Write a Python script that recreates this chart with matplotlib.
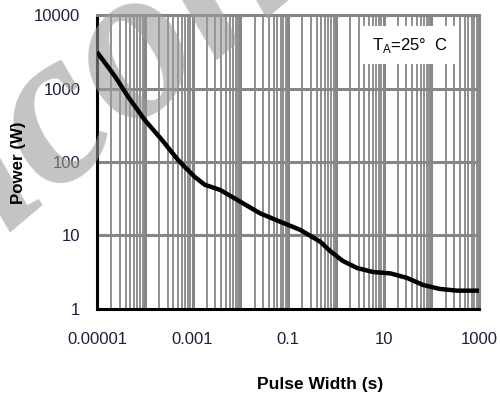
import matplotlib
matplotlib.use("Agg")
import matplotlib.pyplot as plt
from matplotlib.ticker import LogLocator, FixedLocator, FixedFormatter, NullFormatter

plt.rcParams['font.family'] = ['Liberation Sans', 'DejaVu Sans']
plt.rcParams['mathtext.fontset'] = 'custom'
plt.rcParams['mathtext.rm'] = 'Liberation Sans'

# single pulse power vs pulse width
pulse_width = [1e-5, 2.4e-5, 4.5e-5, 1e-4, 2.3e-4, 5e-4, 1.1e-3, 1.8e-3, 3.8e-3,
               1e-2, 2.6e-2, 6.8e-2, 0.18, 0.47, 0.76, 1.4, 2.8, 6, 14, 31, 67,
               150, 350, 1000]
power = [3140, 1450, 770, 373, 199, 106, 63, 49, 41.6,
         28.8, 20, 15.4, 11.9, 8.24, 6.15, 4.5, 3.6, 3.18, 3.04, 2.64, 2.12,
         1.87, 1.77, 1.77]

x_ticks = [1e-5, 1e-4, 1e-3, 1e-2, 1e-1, 1, 10, 100, 1000]
x_tick_labels = ['0.00001', '', '0.001', '', '0.1', '', '10', '', '1000']
y_ticks = [1, 10, 100, 1000, 10000]
y_tick_labels = ['1', '10', '100', '1000', '10000']

txt = '#1c2238'
grid_col = '#878787'

fig = plt.figure(figsize=(5, 3.96), dpi=100)
ax = fig.add_axes([0.194, 0.22, 0.764, 0.742])

ax.set_xscale('log')
ax.set_yscale('log')
ax.set_xlim(1e-5, 1000)
ax.set_ylim(1, 10000)

ax.xaxis.set_major_locator(FixedLocator(x_ticks))
ax.xaxis.set_major_formatter(FixedFormatter(x_tick_labels))
ax.xaxis.set_minor_locator(LogLocator(base=10, subs=range(2, 10), numticks=20))
ax.xaxis.set_minor_formatter(NullFormatter())
ax.yaxis.set_major_locator(FixedLocator(y_ticks))
ax.yaxis.set_major_formatter(FixedFormatter(y_tick_labels))
ax.yaxis.set_minor_locator(FixedLocator([]))

ax.grid(which='major', color=grid_col, lw=2.2, zorder=0)
ax.grid(which='minor', axis='x', color=grid_col, lw=1.3, zorder=0)
ax.set_axisbelow(True)

ax.tick_params(which='both', length=0, labelsize=12, labelcolor=txt)
ax.tick_params(axis='x', pad=17)
ax.tick_params(axis='y', pad=12)

for side in ['left', 'bottom']:
    ax.spines[side].set_color('black')
    ax.spines[side].set_linewidth(2.2)
for side in ['top', 'right']:
    ax.spines[side].set_color(grid_col)
    ax.spines[side].set_linewidth(2.2)

ax.plot(pulse_width, power, color='black', lw=3.2, solid_capstyle='butt', zorder=5)

ax.text(0.82, 0.898, r'T$_\mathrm{A}$=25°  C', transform=ax.transAxes,
        ha='center', va='center', fontsize=12, color='black', zorder=6,
        bbox=dict(facecolor='white', edgecolor='none', pad=7))

fig.text(0.64, 0.028, 'Pulse Width (s)', ha='center', va='center',
         fontsize=12.5, fontweight='bold', color='black')
fig.text(0.038, 0.588, 'Power (W)', ha='center', va='center', rotation=90,
         fontsize=12.2, fontweight='bold', color='black')

# watermark, under the curve but over the grid
ax.text(0.01, 0.41, 'icon', transform=fig.transFigure, fontsize=160,
        fontstyle='italic', fontweight='bold', family='Liberation Serif',
        color='#9c9c9c', alpha=0.6, rotation=40, rotation_mode='anchor',
        ha='left', va='baseline', zorder=4, clip_on=False)

fig.savefig('out.png', dpi=100)
